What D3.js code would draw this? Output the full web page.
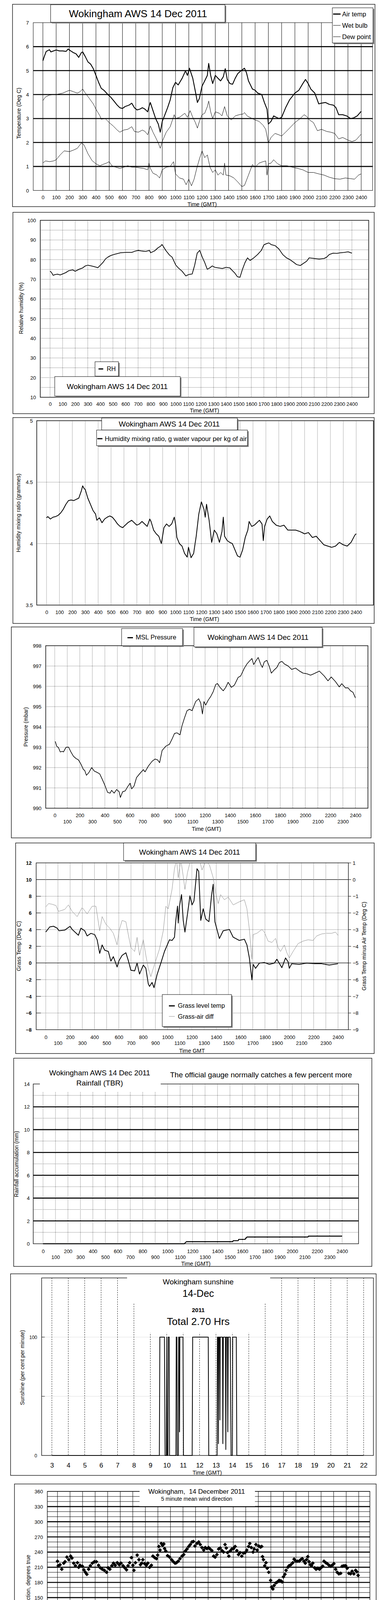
<!DOCTYPE html>
<html lang='en'>
<head>
<meta charset='UTF-8'>
<title>Wokingham AWS 14 Dec 2011</title>
<style>
  body { margin: 0; background: #fff; }
  text { font-family: "Liberation Sans", Arial, Helvetica, sans-serif; fill: #000; white-space: pre; }
</style>
</head>
<body>
<div id="chart"></div>
<script src='https://d3js.org/d3.v7.min.js'></script>
<script>
// ---- data (time in hundredths of an hour for the first six charts, hours for the rest) ----
const hundredTicks = [0,100,200,300,400,500,600,700,800,900,1000,1100,1200,1300,1400,1500,1600,1700,1800,1900,2000,2100,2200,2300,2400]
const hourTicks = [0,1,2,3,4,5,6,7,8,9,10,11,12,13,14,15,16,17,18,19,20,21,22,23,24]
const sunTicks = [3,4,5,6,7,8,9,10,11,12,13,14,15,16,17,18,19,20,21,22]

const airTemp = [[0,5.41],[10,5.58],[25,5.8],[50,5.87],[60,5.78],[80,5.82],[100,5.86],[125,5.82],[150,5.82],[175,5.8],[190,5.9],[210,5.82],[230,5.75],[250,5.7],[270,5.55],[290,5.75],[300,5.78],[320,5.58],[340,5.36],[360,5.27],[380,5.08],[400,4.8],[420,4.51],[440,4.26],[460,4.18],[490,4.0],[510,3.9],[540,3.7],[560,3.56],[580,3.45],[600,3.42],[620,3.5],[650,3.56],[670,3.64],[690,3.45],[710,3.36],[730,3.39],[750,3.45],[770,3.39],[790,3.28],[800,3.5],[810,3.67],[830,3.33],[850,3.0],[870,2.77],[885,2.43],[900,2.88],[920,3.16],[940,3.45],[960,3.78],[980,4.29],[1000,4.51],[1020,4.4],[1050,4.68],[1075,4.99],[1090,4.8],[1105,5.1],[1130,4.68],[1150,4.12],[1165,3.67],[1180,3.84],[1200,4.35],[1220,4.57],[1240,4.8],[1250,5.3],[1265,4.8],[1280,4.46],[1300,4.8],[1320,4.68],[1340,4.57],[1360,4.74],[1375,5.08],[1390,4.63],[1410,4.46],[1430,4.43],[1450,4.68],[1470,4.88],[1500,5.02],[1520,5.1],[1535,4.91],[1550,4.57],[1580,4.23],[1600,4.18],[1620,4.06],[1650,4.0],[1670,3.67],[1690,3.39],[1700,2.77],[1720,2.88],[1740,3.11],[1760,3.05],[1780,3.0],[1800,3.05],[1830,3.45],[1860,3.78],[1900,4.06],[1930,4.18],[1960,4.46],[1980,4.63],[2000,4.46],[2020,4.23],[2050,4.06],[2080,3.61],[2100,3.64],[2130,3.67],[2160,3.59],[2190,3.56],[2210,3.45],[2230,3.16],[2260,3.16],[2290,3.11],[2320,3.0],[2340,3.02],[2370,3.11],[2400,3.3]]
const wetBulb = [[0,3.75],[20,3.9],[50,3.98],[80,4.0],[100,4.0],[150,4.06],[200,4.18],[230,4.12],[260,4.06],[280,4.12],[300,4.23],[320,4.06],[350,3.84],[380,3.61],[400,3.39],[430,3.11],[440,2.97],[470,3.0],[500,2.83],[530,2.69],[560,2.52],[580,2.43],[610,2.52],[640,2.55],[670,2.66],[690,2.46],[720,2.43],[750,2.52],[770,2.46],[790,2.32],[810,2.69],[830,2.43],[850,2.21],[870,1.98],[885,1.76],[900,2.04],[930,2.43],[960,2.66],[990,3.16],[1000,3.0],[1030,3.05],[1070,3.22],[1090,3.05],[1110,3.33],[1130,3.05],[1150,2.83],[1165,2.6],[1180,2.88],[1200,3.16],[1220,3.22],[1240,3.5],[1250,3.73],[1265,3.28],[1280,3.0],[1300,3.28],[1330,3.22],[1350,3.11],[1370,3.5],[1390,3.11],[1420,2.94],[1450,3.11],[1480,3.16],[1510,3.19],[1520,3.25],[1540,3.11],[1570,3.02],[1600,2.94],[1630,2.88],[1660,2.72],[1680,2.55],[1700,1.98],[1720,2.21],[1750,2.38],[1780,2.32],[1800,2.27],[1830,2.43],[1860,2.6],[1900,2.83],[1940,3.0],[1970,3.16],[1990,3.08],[2010,2.94],[2040,2.83],[2070,2.49],[2100,2.55],[2140,2.46],[2170,2.43],[2200,2.38],[2230,2.15],[2260,2.21],[2300,2.1],[2330,2.04],[2360,2.1],[2400,2.35]]
const dewPoint = [[0,1.15],[20,1.23],[50,1.2],[80,1.23],[100,1.28],[130,1.48],[160,1.65],[200,1.62],[230,1.68],[260,1.76],[290,1.98],[310,1.9],[340,1.53],[370,1.25],[400,1.11],[430,1.03],[450,1.08],[480,1.14],[500,1.2],[520,1.03],[550,0.97],[580,0.92],[610,0.97],[640,1.03],[670,0.97],[700,0.97],[730,0.94],[760,0.92],[790,0.86],[800,1.14],[810,0.92],[830,0.72],[860,0.64],[880,0.52],[900,0.86],[930,0.97],[960,1.0],[985,1.2],[1000,0.69],[1030,0.52],[1060,0.47],[1080,0.24],[1100,0.47],[1120,0.19],[1140,0.47],[1160,0.92],[1180,1.31],[1200,1.65],[1220,1.37],[1240,1.48],[1260,0.97],[1280,0.75],[1300,0.86],[1320,0.64],[1340,0.75],[1360,0.64],[1370,1.14],[1380,0.64],[1410,0.61],[1440,0.52],[1470,0.35],[1500,0.16],[1520,0.21],[1550,0.64],[1580,1.08],[1600,0.97],[1630,1.14],[1660,1.2],[1680,1.23],[1690,0.64],[1700,1.11],[1720,1.14],[1740,1.28],[1770,1.11],[1800,1.03],[1840,1.03],[1880,0.97],[1920,0.92],[1960,0.86],[2000,0.75],[2040,0.75],[2080,0.69],[2120,0.64],[2160,0.55],[2200,0.49],[2240,0.47],[2280,0.52],[2320,0.49],[2350,0.47],[2380,0.64],[2400,0.69]]

const relHumidity = [[0,74.1],[10,73.6],[25,72.0],[40,72.4],[60,72.6],[80,72.2],[100,72.7],[125,73.4],[150,74.4],[180,74.8],[200,74.1],[230,75.1],[260,75.8],[280,76.8],[300,77.2],[330,76.8],[360,76.3],[380,75.9],[400,77.2],[420,78.5],[440,80.3],[460,81.3],[480,82.0],[500,82.5],[530,83.0],[560,83.5],[600,83.7],[650,83.7],[680,84.4],[700,84.7],[730,84.4],[760,84.2],[790,84.7],[800,83.5],[830,84.4],[860,86.1],[880,86.9],[890,87.7],[900,86.8],[920,84.7],[950,82.3],[970,81.3],[1000,77.2],[1020,75.8],[1050,74.1],[1080,71.7],[1100,72.4],[1130,72.7],[1150,77.2],[1170,83.3],[1190,84.7],[1210,81.3],[1230,78.5],[1250,75.1],[1270,75.8],[1290,76.8],[1310,76.1],[1340,75.8],[1370,75.5],[1400,76.1],[1430,75.8],[1450,74.4],[1470,73.1],[1490,71.3],[1510,71.0],[1530,75.1],[1550,78.5],[1570,80.9],[1590,79.6],[1620,80.9],[1650,82.6],[1680,84.7],[1700,87.5],[1720,88.1],[1740,88.5],[1760,87.6],[1790,87.1],[1820,85.4],[1850,82.6],[1880,80.9],[1910,79.9],[1940,78.5],[1960,77.5],[1990,77.0],[2010,77.9],[2040,79.2],[2060,80.9],[2100,80.6],[2140,80.3],[2180,80.6],[2200,81.3],[2220,82.6],[2250,83.3],[2280,83.2],[2310,83.5],[2340,83.7],[2370,84.0],[2400,83.3]]

const mixingRatio = [[0,4.21],[10,4.22],[30,4.2],[50,4.215],[70,4.22],[90,4.23],[110,4.25],[130,4.28],[150,4.32],[170,4.35],[190,4.355],[210,4.35],[230,4.36],[250,4.37],[270,4.43],[280,4.47],[290,4.45],[300,4.44],[320,4.37],[340,4.32],[360,4.27],[380,4.24],[390,4.19],[410,4.21],[430,4.17],[450,4.2],[470,4.215],[490,4.225],[510,4.215],[530,4.19],[550,4.16],[570,4.14],[590,4.13],[610,4.15],[630,4.17],[660,4.19],[680,4.17],[700,4.15],[720,4.16],[740,4.18],[760,4.16],[780,4.14],[800,4.2],[810,4.18],[830,4.11],[850,4.08],[870,4.06],[890,4.0],[910,4.13],[930,4.16],[950,4.14],[970,4.16],[990,4.215],[1000,4.16],[1010,4.05],[1030,4.0],[1050,3.98],[1070,3.92],[1090,3.89],[1100,3.97],[1120,3.885],[1140,3.92],[1160,4.06],[1180,4.24],[1200,4.34],[1220,4.28],[1230,4.215],[1240,4.32],[1260,4.19],[1280,4.01],[1300,4.11],[1320,4.08],[1340,4.01],[1360,4.1],[1370,4.215],[1380,4.06],[1400,4.025],[1420,4.01],[1440,4.0],[1460,3.95],[1480,3.9],[1500,3.89],[1520,3.95],[1540,4.05],[1560,4.11],[1570,4.18],[1590,4.14],[1610,4.15],[1630,4.17],[1650,4.19],[1670,4.16],[1680,4.025],[1690,4.14],[1710,4.2],[1730,4.225],[1750,4.18],[1780,4.15],[1810,4.14],[1840,4.15],[1870,4.11],[1900,4.11],[1930,4.11],[1960,4.1],[2000,4.08],[2030,4.09],[2060,4.05],[2090,4.06],[2120,4.025],[2150,3.99],[2180,3.98],[2210,3.97],[2240,3.98],[2270,4.01],[2300,3.99],[2330,3.98],[2360,4.01],[2390,4.07],[2400,4.08]]

const mslPressure = [[4,993.29],[16,993.05],[30,992.98],[44,992.77],[60,992.8],[70,992.77],[90,993.0],[110,993.01],[129,992.77],[149,992.56],[169,992.45],[189,992.38],[209,992.17],[229,991.9],[239,991.86],[253,991.62],[273,991.76],[295,992.0],[315,991.83],[339,991.76],[359,991.69],[378,991.44],[398,991.16],[422,990.78],[442,990.74],[454,990.88],[474,990.74],[494,990.92],[514,990.81],[524,990.53],[542,990.81],[562,990.85],[582,991.06],[602,991.23],[614,990.95],[633,991.09],[653,991.51],[677,991.69],[707,991.9],[721,991.79],[747,992.07],[777,992.31],[801,992.42],[821,992.38],[837,992.24],[857,992.84],[886,993.05],[916,993.15],[936,993.4],[956,993.68],[976,993.71],[1000,993.61],[1016,994.06],[1036,994.45],[1056,994.8],[1076,994.87],[1096,994.8],[1125,995.25],[1149,995.39],[1165,995.18],[1179,994.64],[1191,995.25],[1205,995.08],[1225,995.32],[1245,995.5],[1265,995.74],[1285,996.09],[1299,996.14],[1319,995.95],[1345,995.78],[1365,995.95],[1384,996.2],[1410,995.95],[1434,996.06],[1464,996.44],[1484,996.51],[1514,996.9],[1534,997.1],[1554,997.24],[1574,997.37],[1588,997.07],[1604,997.24],[1624,997.42],[1643,997.1],[1657,996.93],[1673,997.21],[1693,997.28],[1713,996.97],[1729,996.65],[1749,996.79],[1773,996.93],[1793,997.17],[1813,997.23],[1833,997.1],[1863,997.0],[1892,996.83],[1922,996.9],[1952,996.76],[1982,996.65],[2012,996.62],[2042,996.55],[2072,996.63],[2112,996.75],[2151,996.51],[2181,996.27],[2207,996.46],[2241,996.23],[2271,995.97],[2291,996.13],[2321,995.92],[2341,995.93],[2361,995.78],[2380,995.71],[2400,995.43]]

const grassTemp = [[0,3.71],[33,4.33],[64,4.4],[94,4.17],[109,3.86],[156,3.94],[200,4.4],[217,4.02],[268,3.32],[289,4.17],[320,3.86],[340,3.24],[371,3.55],[402,3.4],[422,2.78],[443,1.15],[463,2.16],[484,1.53],[514,1.38],[535,0.22],[555,0.76],[586,-0.48],[602,0.29],[627,0.91],[658,1.22],[678,0.29],[699,-0.87],[730,-0.95],[750,-0.02],[770,-1.33],[801,-0.25],[822,-0.64],[842,-2.5],[852,-2.81],[873,-2.34],[889,-2.96],[914,-1.41],[945,-0.02],[975,1.38],[1016,2.78],[1037,2.7],[1057,3.09],[1068,5.1],[1082,6.81],[1088,4.79],[1098,6.81],[1115,8.2],[1129,5.1],[1143,3.71],[1164,5.88],[1184,8.05],[1201,6.96],[1217,7.43],[1242,11.3],[1256,10.99],[1273,5.1],[1293,6.5],[1314,5.26],[1340,4.95],[1361,8.05],[1375,9.44],[1389,4.95],[1426,2.93],[1457,3.86],[1508,4.02],[1539,3.09],[1590,2.7],[1631,2.85],[1652,2.16],[1672,0.6],[1693,-2.03],[1703,-0.17],[1723,-0.64],[1754,-0.02],[1795,0.06],[1836,-0.17],[1877,-0.02],[1898,0.45],[1939,-0.56],[1969,0.6],[1990,0.14],[2000,-0.64],[2020,-0.09],[2082,-0.17],[2143,-0.02],[2205,-0.09],[2266,-0.09],[2328,-0.25],[2400,-0.09]]
const grassAirDiff = [[0,-1.64],[23,-1.44],[53,-1.48],[84,-1.56],[105,-1.91],[156,-1.79],[186,-1.52],[217,-1.91],[258,-2.22],[299,-1.67],[340,-2.06],[381,-1.6],[412,-1.6],[443,-3.07],[463,-2.22],[494,-2.68],[525,-2.91],[555,-3.22],[586,-3.92],[602,-3.07],[627,-2.45],[658,-2.53],[678,-3.3],[699,-4.08],[730,-4.31],[750,-3.46],[770,-4.54],[801,-3.61],[822,-4.54],[842,-5.32],[863,-5.82],[883,-5.32],[904,-4.85],[934,-4.16],[965,-3.07],[986,-1.6],[1006,-1.75],[1037,-0.59],[1057,0.65],[1074,1.2],[1088,0.11],[1109,1.2],[1129,0.19],[1143,-0.59],[1164,0.42],[1190,1.2],[1221,1.3],[1262,1.2],[1283,0.57],[1314,1.1],[1344,0.88],[1375,0.11],[1396,-0.82],[1416,-1.44],[1436,-0.9],[1467,-1.21],[1498,-1.05],[1539,-1.52],[1590,-1.33],[1631,-1.21],[1652,-1.75],[1672,-2.99],[1693,-4.78],[1703,-3.3],[1734,-3.22],[1775,-2.99],[1795,-3.15],[1826,-3.69],[1857,-3.77],[1887,-3.53],[1908,-4.08],[1928,-4.31],[1959,-3.92],[1980,-4.39],[2000,-4.7],[2031,-4.31],[2072,-3.84],[2113,-3.69],[2154,-3.61],[2195,-3.65],[2225,-3.38],[2266,-3.26],[2307,-3.22],[2348,-3.22],[2379,-3.15],[2400,-3.34]]

const rainAccum = [[0,0],[1134,0],[1150,0.18],[1522,0.18],[1526,0.27],[1566,0.27],[1570,0.38],[1622,0.38],[1626,0.5],[1632,0.5],[1636,0.59],[2126,0.59],[2130,0.67],[2400,0.67]]

const sunshine = [[3,0],[9.55,0],[9.58,100],[9.86,100],[9.9,0],[9.98,0],[10.0,100],[10.02,0],[10.07,0],[10.09,100],[10.15,100],[10.17,0],[10.56,0],[10.58,100],[10.62,100],[10.64,0],[10.71,0],[10.73,100],[10.76,100],[10.78,20],[10.8,100],[10.99,100],[11.02,0],[11.55,0],[11.58,100],[12.53,100],[12.56,0],[13.07,0],[13.09,100],[13.13,100],[13.15,10],[13.17,100],[13.22,100],[13.24,30],[13.26,100],[13.4,100],[13.42,10],[13.45,100],[13.58,100],[13.6,5],[13.63,100],[13.7,100],[13.72,20],[13.75,100],[13.87,100],[13.92,0],[14.0,0],[14.02,100],[14.24,100],[14.27,0],[22,0]]

const windDirection = [[0,222],[0.06,213],[0.2,215],[0.34,206],[0.5,218],[0.6,221],[0.75,230],[0.9,225],[1.05,232],[1.15,228],[1.29,218],[1.43,213],[1.59,219],[1.69,210],[1.79,214],[1.98,212],[2.1,205],[2.22,200],[2.34,196],[2.48,206],[2.62,213],[2.78,218],[2.94,221],[3.1,221],[3.27,214],[3.41,209],[3.57,206],[3.73,204],[3.91,200],[4.03,209],[4.17,206],[4.33,213],[4.46,218],[4.6,214],[4.76,219],[4.92,215],[5.06,218],[5.22,213],[5.36,209],[5.5,205],[5.62,213],[5.75,219],[5.89,229],[6.01,214],[6.09,204],[6.21,219],[6.35,234],[6.49,225],[6.61,215],[6.71,218],[6.8,225],[6.94,217],[7.08,214],[7.2,218],[7.34,210],[7.48,214],[7.6,232],[7.74,229],[7.88,227],[7.98,234],[8.08,251],[8.17,244],[8.27,257],[8.37,253],[8.47,256],[8.53,247],[8.63,242],[8.77,233],[8.93,230],[9.09,225],[9.23,221],[9.37,218],[9.48,219],[9.62,222],[9.76,227],[9.92,232],[10.06,235],[10.18,242],[10.32,246],[10.46,251],[10.58,255],[10.71,260],[10.83,261],[10.95,252],[11.11,257],[11.25,260],[11.37,255],[11.51,249],[11.65,244],[11.77,249],[11.9,247],[12.04,249],[12.16,246],[12.3,243],[12.44,232],[12.56,230],[12.7,235],[12.84,246],[12.96,248],[13.1,243],[13.23,240],[13.35,255],[13.45,248],[13.55,239],[13.65,232],[13.75,242],[13.89,246],[14.03,247],[14.15,251],[14.29,243],[14.42,235],[14.54,239],[14.68,232],[14.82,238],[14.94,239],[15.08,244],[15.22,251],[15.32,257],[15.44,249],[15.58,240],[15.67,246],[15.81,255],[15.91,244],[16.03,252],[16.17,250],[16.27,251],[16.33,231],[16.41,225],[16.51,213],[16.61,219],[16.71,208],[16.83,200],[16.98,184],[17.06,171],[17.16,167],[17.26,174],[17.4,179],[17.52,181],[17.66,184],[17.8,183],[17.9,181],[18.0,191],[18.12,196],[18.21,204],[18.35,210],[18.45,213],[18.59,215],[18.75,219],[18.85,226],[18.99,222],[19.11,222],[19.25,222],[19.38,225],[19.5,227],[19.64,222],[19.74,218],[19.84,225],[19.94,231],[20.04,221],[20.14,215],[20.24,213],[20.34,218],[20.48,209],[20.6,206],[20.73,208],[20.87,206],[20.99,209],[21.13,212],[21.23,222],[21.37,219],[21.49,217],[21.63,214],[21.77,212],[21.88,214],[22.02,217],[22.16,206],[22.28,200],[22.42,197],[22.56,198],[22.68,212],[22.82,213],[22.96,213],[23.08,208],[23.21,198],[23.35,197],[23.47,202],[23.61,197],[23.75,204],[23.85,201],[23.95,194]]

const windMean = [[0,7.6],[0.14,8.4],[0.25,9.5],[0.39,10.1],[0.48,10.4],[0.62,9.8],[0.73,7.8],[0.87,8.7],[1.02,7.5],[1.16,7.2],[1.29,5.2],[1.45,5.7],[1.6,6.9],[1.78,5.7],[1.93,6.0],[2.12,5.7],[2.28,5.5],[2.47,6.0],[2.64,6.3],[2.8,7.2],[2.95,6.9],[3.15,8.4],[3.32,7.5],[3.51,6.9],[3.67,7.2],[3.86,7.4],[4.05,7.5],[4.25,7.8],[4.44,7.2],[4.63,7.5],[4.83,8.9],[5.02,7.8],[5.25,6.0],[5.44,6.6],[5.64,6.9],[5.83,5.7],[6.02,5.5],[6.22,5.2],[6.37,4.3],[6.56,5.2],[6.76,4.6],[6.95,3.9],[7.14,4.3],[7.34,4.0],[7.53,4.6],[7.72,4.3],[7.92,5.5],[8.11,4.6],[8.3,3.4],[8.53,3.7],[8.78,4.3],[8.98,5.5],[9.17,6.9],[9.36,7.2],[9.61,8.4],[9.81,6.6],[10.0,7.5],[10.23,7.8],[10.52,8.9],[10.71,11.3],[10.91,12.4],[11.04,10.4],[11.2,12.1],[11.39,11.0],[11.58,12.4],[11.78,8.7],[11.97,8.9],[12.12,7.2],[12.32,10.1],[12.51,9.8],[12.7,10.4],[12.9,9.8],[13.09,10.7],[13.28,8.7],[13.47,8.4],[13.67,7.2],[13.9,7.2],[14.13,8.7],[14.32,7.5],[14.52,6.6],[14.71,9.2],[14.9,10.7],[15.15,10.1],[15.35,12.1],[15.6,7.8],[15.83,9.8],[16.02,9.8],[16.22,7.5],[16.41,5.2],[16.6,3.7],[16.83,2.6],[17.03,3.4],[17.22,5.5],[17.37,6.6],[17.57,5.2],[17.76,5.7],[17.95,6.3],[18.15,4.3],[18.34,5.2],[18.53,5.7],[18.73,6.3],[18.96,6.3],[19.19,5.7],[19.38,7.2],[19.59,6.0],[19.79,6.6],[20.04,5.5],[20.27,5.7],[20.46,4.0],[20.62,5.2],[20.81,6.0],[21.0,7.2],[21.24,8.1],[21.43,6.6],[21.66,7.2],[21.85,6.9],[22.05,6.0],[22.24,6.9],[22.43,7.2],[22.63,6.6],[22.82,7.2],[23.05,6.0],[23.26,6.9],[23.46,6.0],[23.65,7.2],[23.84,5.7],[24.0,7.0]]
const windGust = [[0,16.5],[0.1,12],[0.2,14],[0.3,13],[0.4,17],[0.45,19.3],[0.5,13],[0.6,16],[0.7,11],[0.8,15],[0.9,10],[1.0,12],[1.1,9],[1.2,13],[1.3,7],[1.4,9],[1.5,6],[1.6,12],[1.7,8],[1.8,10],[1.9,7],[2.0,9],[2.1,6.5],[2.2,11],[2.3,8],[2.4,10],[2.5,7.5],[2.6,12],[2.7,9],[2.8,14.5],[2.9,10],[3.0,13],[3.1,9],[3.2,12],[3.3,10],[3.4,14.5],[3.5,9],[3.6,13],[3.7,10],[3.8,12],[3.9,9],[4.0,15],[4.1,10],[4.2,13],[4.3,9],[4.4,14],[4.5,10],[4.6,15],[4.7,9],[4.8,13],[4.9,9],[5.0,12],[5.1,8],[5.2,11],[5.3,7],[5.4,9],[5.5,10],[5.6,7],[5.7,9],[5.8,6.5],[5.9,8],[6.0,9],[6.1,6],[6.2,8],[6.3,5.5],[6.4,7],[6.5,8.5],[6.6,6],[6.7,7],[6.8,7.5],[6.9,6],[7.0,5.5],[7.1,7],[7.2,5],[7.3,6.5],[7.4,8],[7.5,6],[7.6,10.5],[7.7,7],[7.8,9],[7.9,5.5],[8.0,7.5],[8.1,5],[8.2,6],[8.3,7],[8.4,4.5],[8.5,6],[8.6,7],[8.7,5.5],[8.8,5],[8.9,7],[9.0,8],[9.1,9],[9.2,12],[9.3,8],[9.4,11],[9.5,9],[9.6,13],[9.7,10],[9.8,12],[9.9,9],[10.0,14],[10.1,11],[10.2,13],[10.3,10],[10.4,15],[10.5,12],[10.6,17],[10.7,13],[10.8,22.5],[10.9,14],[11.0,18],[11.1,12],[11.2,20],[11.3,14],[11.4,23.3],[11.5,13],[11.6,17],[11.7,12],[11.8,15],[11.9,11],[12.0,14],[12.1,10],[12.2,16],[12.3,11],[12.4,15],[12.5,12],[12.6,17],[12.7,11],[12.8,15],[12.9,12],[13.0,17.5],[13.1,12],[13.2,14],[13.3,10],[13.4,13],[13.5,10],[13.6,9],[13.7,11],[13.8,12],[13.9,9],[14.0,13],[14.1,10],[14.2,12],[14.3,14],[14.4,9],[14.5,11],[14.6,12],[14.7,16],[14.8,11],[14.9,14],[15.0,17],[15.1,12],[15.2,16],[15.3,21.8],[15.4,18],[15.5,11],[15.6,16],[15.7,12],[15.8,17],[15.9,12],[16.0,15],[16.1,11],[16.2,12],[16.3,8],[16.4,9],[16.5,6],[16.6,7],[16.7,4],[16.8,6],[16.9,5],[17.0,7],[17.1,6],[17.2,8],[17.3,6],[17.4,10],[17.5,7],[17.6,9],[17.7,6],[17.8,8],[17.9,6],[18.0,12],[18.1,7],[18.2,10],[18.3,6],[18.4,9],[18.5,7],[18.6,11],[18.7,8],[18.8,13],[18.9,8],[19.0,12],[19.1,8],[19.2,13],[19.3,9],[19.4,12],[19.5,7],[19.6,10],[19.7,7],[19.8,11],[19.9,7],[20.0,9],[20.1,6],[20.2,9],[20.3,6],[20.4,7],[20.5,5],[20.6,8],[20.7,6],[20.8,9],[20.9,8],[21.0,11],[21.1,9],[21.2,13],[21.3,10],[21.4,12],[21.5,10],[21.6,15],[21.7,10],[21.8,13],[21.9,9],[22.0,12],[22.1,9],[22.2,13],[22.3,9],[22.4,11],[22.5,8],[22.6,12],[22.7,9],[22.8,11],[22.9,8],[23.0,10],[23.1,8],[23.2,11],[23.3,7],[23.4,10],[23.5,8],[23.6,11],[23.7,8],[23.8,12],[23.9,9],[24.0,10]]
const windLowX10 = [[6.91,38.4],[6.95,38.8],[6.99,39.2],[7.01,39.7],[7.05,40.0],[8.32,39.1],[8.34,36.8],[8.38,36.2],[8.42,34.2],[8.44,33.3],[8.46,35.4],[8.49,35.7],[8.53,37.4],[8.59,38.3],[8.63,38.9],[8.69,39.4],[16.70,37.0],[16.74,35.1],[16.76,34.2],[16.80,31.4],[16.78,30.1],[16.81,28.7],[16.83,27.2],[16.85,25.6],[16.87,24.6],[16.89,24.3],[16.95,26.9],[16.99,28.7],[17.01,30.4],[17.03,31.9],[17.07,33.0],[17.08,34.5],[17.10,35.7],[17.12,38.3],[17.14,38.6],[20.56,39.6]]

const TITLE = 'Wokingham AWS 14 Dec 2011'

// ---- helpers ----
const svg = d3.select('#chart').append('svg')
  .attr('width', 1000).attr('height', 5000).style('display', 'block')
svg.append('rect').attr('width', 1000).attr('height', 5000).attr('fill', '#fff')

const DOT = '1,2'

function rect(x, y, w, h, fill, stroke, sw) {
  return svg.append('rect').attr('x', x).attr('y', y).attr('width', w).attr('height', h)
    .attr('fill', fill).attr('stroke', stroke || 'none').attr('stroke-width', sw || 1)
}
function frame(x, y, w, h) { rect(x, y, w, h, 'none', '#000', 1.3) }
function box(x, y, w, h) {
  rect(x + 3, y + 3, w, h, '#808080')
  rect(x, y, w, h, '#fff', '#000', 1)
}
function seg(x1, y1, x2, y2, w, color) {
  return svg.append('line').attr('x1', x1).attr('y1', y1).attr('x2', x2).attr('y2', y2)
    .attr('stroke', color || '#000').attr('stroke-width', w || 1)
}
function hGrid(y, vals, x0, x1, w, dash, color) {
  svg.append('g').selectAll('line').data(vals).join('line')
    .attr('x1', x0).attr('x2', x1).attr('y1', d => y(d)).attr('y2', d => y(d))
    .attr('stroke', color || '#000').attr('stroke-width', w).attr('stroke-dasharray', dash || null)
}
function vGrid(x, vals, y0, y1, w, dash, color) {
  svg.append('g').selectAll('line').data(vals).join('line')
    .attr('y1', y0).attr('y2', y1).attr('x1', d => x(d)).attr('x2', d => x(d))
    .attr('stroke', color || '#000').attr('stroke-width', w).attr('stroke-dasharray', dash || null)
}
function label(str, x, y, size, anchor, weight) {
  return svg.append('text').attr('x', x).attr('y', y).attr('dy', '0.35em')
    .attr('font-size', size).attr('text-anchor', anchor || 'middle')
    .attr('font-weight', weight || 'normal').text(str)
}
function vlabel(str, x, y, size) {
  return label(str, x, y, size).attr('transform', `rotate(-90,${x},${y})`)
}
function xAxis(x, y, vals, fmt, size) {
  const g = svg.append('g').attr('transform', `translate(0,${y})`)
    .call(d3.axisBottom(x).tickValues(vals).tickSize(0).tickPadding(0).tickFormat(fmt))
  g.select('.domain').remove()
  g.attr('font-size', size || 13)
  g.selectAll('text').attr('y', 0).attr('dy', '0.35em')
}
function yAxis(y, x, vals, fmt, size, weight, right) {
  const ax = right ? d3.axisRight(y) : d3.axisLeft(y)
  const g = svg.append('g').attr('transform', `translate(${x},0)`)
    .call(ax.tickValues(vals).tickSize(0).tickPadding(0).tickFormat(fmt))
  g.select('.domain').remove()
  g.attr('font-size', size || 13)
  g.selectAll('text').attr('x', 0).attr('dy', '0.35em').attr('font-weight', weight || null)
}
function series(data, x, y, w, color, clip) {
  const p = svg.append('path').datum(data)
    .attr('d', d3.line().x(d => x(d[0])).y(d => y(d[1])))
    .attr('fill', 'none').attr('stroke', color || '#000').attr('stroke-width', w)
    .attr('stroke-linejoin', 'round')
  if (clip) p.attr('clip-path', `url(#${clip})`)
}
const diamond = {
  draw(ctx, size) {
    const r = Math.sqrt(size / 2)
    ctx.moveTo(0, -r); ctx.lineTo(r, 0); ctx.lineTo(0, r); ctx.lineTo(-r, 0); ctx.closePath()
  }
}
const fmtInt = d3.format('d')
const evens = hundredTicks.filter((d, i) => i % 2 === 0)
const odds = hundredTicks.filter((d, i) => i % 2 === 1)

// ---- 1. temperatures ----
{
  const L = 85, R = 953, T = 58, B = 487.5
  const x = d3.scaleLinear().domain([0, 2400]).range([109.7, 923.8])
  const y = d3.scaleLinear().domain([0, 7]).range([B, T])
  frame(32, 11, 927, 518)
  vGrid(x, hundredTicks, T, B, 1)
  hGrid(y, [1, 2, 3, 4, 5, 6], L, R, 2.6)
  rect(L, T, R - L, B - T, 'none', '#000', 1)
  series(dewPoint, x, y, 1)
  series(wetBulb, x, y, 1)
  series(airTemp, x, y, 2.2)
  xAxis(x, 505, hundredTicks, fmtInt)
  yAxis(y, 74, [0, 1, 2, 3, 4, 5, 6, 7], fmtInt)
  label('Time (GMT)', 517, 523, 14)
  vlabel('Temperature (Deg C)', 48, 290, 14)
  box(129.5, 12, 446, 45)
  label(TITLE, 353, 34.5, 26)
  box(850, 20, 104, 90)
  seg(852, 36, 871, 36, 3); label('Air temp', 875, 36, 16.5, 'start')
  seg(852, 65, 871, 65, 1); label('Wet bulb', 875, 65, 16.5, 'start')
  seg(852, 94, 871, 94, 1); label('Dew point', 875, 94, 16.5, 'start')
}

// ---- 2. relative humidity ----
{
  const L = 103, R = 943, T = 564, B = 1017
  const x = d3.scaleLinear().domain([0, 2400]).range([128, 900])
  const y = d3.scaleLinear().domain([10, 100]).range([B, T])
  frame(33, 543.5, 924, 515.5)
  vGrid(x, hundredTicks, T, B, 1, DOT)
  hGrid(y, [15, 20, 25, 30, 35, 40, 45, 50, 55, 60, 65, 70, 75, 80, 85, 90, 95], L, R, 1, DOT)
  rect(L, T, R - L, B - T, 'none', '#000', 1.5)
  series(relHumidity, x, y, 1.8)
  xAxis(x, 1034, hundredTicks, fmtInt)
  yAxis(y, 92, [10, 20, 30, 40, 50, 60, 70, 80, 90, 100], fmtInt)
  label('Time (GMT)', 523, 1051, 14)
  vlabel('Relative humidity (%)', 54, 789, 14)
  box(243, 926, 60, 37)
  seg(252, 944.5, 264, 944.5, 3); label('RH', 273, 944.5, 16, 'start')
  box(140, 964, 321, 50)
  label(TITLE, 300, 989, 19)
}

// ---- 3. humidity mixing ratio ----
{
  const L = 94, R = 955, T = 1077, B = 1549
  const x = d3.scaleLinear().domain([0, 2400]).range([119, 911])
  const y = d3.scaleLinear().domain([3.5, 5]).range([B, T])
  frame(33, 1069, 924, 527)
  vGrid(x, hundredTicks, T, B, 1, DOT)
  hGrid(y, [4, 4.5], L, R, 1, DOT)
  rect(L, T, R - L, B - T, 'none', '#000', 1.5)
  series(mixingRatio, x, y, 2)
  xAxis(x, 1567, hundredTicks, fmtInt)
  yAxis(y, 84, [3.5, 4, 4.5, 5], d => String(d))
  label('Time (GMT)', 523, 1585, 14)
  vlabel('Humidity mixing ratio (grammes)', 47, 1313, 14)
  box(260, 1070, 347, 31)
  label(TITLE, 433, 1085.5, 19)
  box(247, 1101, 386, 40)
  seg(249, 1123, 262, 1123, 3)
  label('Humidity mixing ratio, g water vapour per kg of air', 268, 1123, 16.5, 'start')
}

// ---- 4. pressure ----
{
  const L = 117, R = 941, T = 1653, B = 2069
  const x = d3.scaleLinear().domain([0, 2400]).range([140, 909])
  const y = d3.scaleLinear().domain([990, 998]).range([B, T])
  frame(29, 1605, 920, 540)
  vGrid(x, hundredTicks, T, B, 1, DOT)
  hGrid(y, [991, 992, 993, 994, 995, 996, 997], L, R, 1, DOT)
  rect(L, T, R - L, B - T, 'none', '#000', 1.5)
  series(mslPressure, x, y, 1.6)
  xAxis(x, 2087, evens, fmtInt)
  xAxis(x, 2103.5, odds, fmtInt)
  yAxis(y, 106, [990, 991, 992, 993, 994, 995, 996, 997, 998], fmtInt)
  label('Time (GMT)', 528, 2122, 14)
  vlabel('Pressure (mbar)', 66, 1861, 14)
  box(311, 1609, 156, 44)
  seg(326, 1632.5, 340, 1632.5, 3); label('MSL Pressure', 347, 1631, 16.5, 'start')
  box(496, 1606, 328, 50)
  label(TITLE, 660, 1631, 19)
}

// ---- 5. grass temperature ----
{
  const L = 92.5, R = 891, T = 2209, B = 2636
  const x = d3.scaleLinear().domain([0, 2400]).range([117, 864.5])
  const y = d3.scaleLinear().domain([-8, 12]).range([B, T])
  const y2 = d3.scaleLinear().domain([-9, 1]).range([B, T])
  frame(40, 2158, 917, 539)
  svg.append('clipPath').attr('id', 'grassClip').append('rect')
    .attr('x', L).attr('y', T).attr('width', R - L).attr('height', B - T)
  vGrid(x, hundredTicks, T, B, 1, DOT)
  hGrid(y, [-6, -4, -2, 2, 4, 6, 8], L, R, 1, DOT)
  hGrid(y, [0, 10], L, R, 1.3)
  svg.append('g').selectAll('line').data([-6, -4, -2, 2, 4, 6, 8]).join('line')
    .attr('x1', L).attr('x2', L + 12).attr('y1', d => y(d)).attr('y2', d => y(d))
    .attr('stroke', '#000')
  svg.append('g').selectAll('line').data([-9, -8, -7, -6, -5, -4, -3, -2, -1, 0, 1]).join('line')
    .attr('x1', R).attr('x2', R + 7).attr('y1', d => y2(d)).attr('y2', d => y2(d))
    .attr('stroke', '#000')
  rect(L, T, R - L, B - T, 'none', '#000', 1.3)
  series(grassAirDiff, x, y2, 1, '#8c8c8c', 'grassClip')
  series(grassTemp, x, y, 2, '#000', 'grassClip')
  xAxis(x, 2655, evens, fmtInt)
  xAxis(x, 2670, odds, fmtInt)
  yAxis(y, 81, [-8, -6, -4, -2, 0, 2, 4, 6, 8, 10, 12], fmtInt, 13, 'bold')
  yAxis(y2, 902, [-9, -8, -7, -6, -5, -4, -3, -2, -1, 0, 1], fmtInt, 13, null, true)
  label('Time GMT', 491, 2690, 14)
  vlabel('Grass Temp (Deg C)', 48, 2422, 14)
  vlabel('Grass Temp minus Air Temp (Deg C)', 931, 2422, 14)
  box(316, 2158, 338, 45)
  label(TITLE, 485, 2181, 19)
  box(415, 2546, 177, 82)
  seg(432, 2575, 447, 2575, 3); label('Grass level temp', 455, 2574, 16, 'start')
  seg(432, 2602, 447, 2602, 1, '#8c8c8c'); label('Grass-air diff', 455, 2602, 16, 'start')
}

// ---- 6. rainfall ----
{
  const L = 85, R = 917, T = 2775, B = 3184
  const x = d3.scaleLinear().domain([0, 2400]).range([110, 875])
  const y = d3.scaleLinear().domain([0, 14]).range([B, T])
  frame(35, 2709, 916, 533)
  vGrid(x, hundredTicks, T, B, 1, DOT)
  hGrid(y, [1, 3, 5, 7, 9, 11, 13], L, R, 1, DOT)
  hGrid(y, [2, 4, 6, 8, 10, 12], L, R, 2.6)
  rect(L, T, R - L, B - T, 'none', '#000', 1.3)
  rect(102, 2728, 309, 66, '#fff')
  series(rainAccum, x, y, 2.4)
  xAxis(x, 3203, evens, fmtInt)
  xAxis(x, 3218, odds, fmtInt)
  yAxis(y, 76, [0, 2, 4, 6, 8, 10, 12, 14], fmtInt)
  label('Time (GMT)', 501, 3235, 14)
  vlabel('Rainfall accumulation (mm)', 42, 2980, 14)
  label(TITLE, 255, 2746, 19)
  label('Rainfall (TBR)', 255, 2772, 19)
  label('The official gauge normally catches a few percent more', 435, 2751, 19, 'start')
}

// ---- 7. sunshine ----
{
  const L = 106.5, R = 955, T = 3271.5, B = 3726
  const x = d3.scaleLinear().domain([3, 22]).range([132.7, 930])
  const y = d3.scaleLinear().domain([0, 150]).range([B, T])
  frame(27, 3261, 935, 516)
  vGrid(x, sunTicks, T, B, 1, '3,3')
  hGrid(y, [50, 100], L, R, 1, DOT, '#999')
  svg.append('g').selectAll('line').data([50, 100]).join('line')
    .attr('x1', L).attr('x2', L + 8).attr('y1', d => y(d)).attr('y2', d => y(d)).attr('stroke', '#000')
  rect(L, T, R - L, B - T, 'none', '#000', 1.3)
  rect(325, 3265, 366, 70, '#fff')
  rect(344, 3335, 326, 77, '#fff')
  series(sunshine, x, y, 2)
  xAxis(x, 3751, sunTicks, fmtInt, 17)
  yAxis(y, 95, [0, 100], fmtInt, 12)
  label('Time (GMT)', 530, 3770, 14)
  vlabel('Sunshine (per cent per minute)', 57, 3501, 14)
  label('Wokingham sunshine', 507, 3281, 19)
  label('14-Dec', 507, 3311, 25)
  label('2011', 507, 3354, 15, 'middle', 'bold')
  label('Total 2.70 Hrs', 507, 3383, 26)
}

// ---- 8. wind direction ----
{
  const L = 121, R = 946, T = 3818, B = 4284
  const x = d3.scaleLinear().domain([0, 24]).range([147, 917.5])
  const y = d3.scaleLinear().domain([0, 360]).range([B, T])
  const tens = d3.range(0, 361, 10).filter(d => d % 30 !== 0 || d === 0 || d === 360)
  frame(37, 3799, 925, 532.5)
  hGrid(y, tens, L, R, 1)
  vGrid(x, hourTicks, T, B, 1)
  hGrid(y, [30, 60, 90, 120, 150, 180, 210, 240, 270, 300, 330], L, R, 2.6)
  rect(L, T, R - L, B - T, 'none', '#000', 1.3)
  rect(357, 3806, 295, 50, '#fff')
  svg.append('g').selectAll('path').data(windDirection).join('path')
    .attr('transform', d => `translate(${x(d[0])},${y(d[1])})`)
    .attr('d', d3.symbol(diamond, 50)).attr('fill', '#000')
  xAxis(x, 4301, hourTicks, fmtInt)
  yAxis(y, 110, [0, 30, 60, 90, 120, 150, 180, 210, 240, 270, 300, 330, 360], fmtInt)
  label('Time (GMT)', 533, 4319, 14)
  vlabel('Direction, degrees true', 72, 4051, 14)
  label('Wokingham,  14 December 2011', 503, 3818, 17)
  label('5 minute mean wind direction', 503, 3837, 14)
}

// ---- 9. wind speed ----
{
  const L = 96, R = 947, T = 4385, B = 4781
  const x = d3.scaleLinear().domain([0, 24]).range([121, 915])
  const y = d3.scaleLinear().domain([0, 50]).range([B, T])
  frame(38, 4341, 927, 515)
  vGrid(x, hourTicks, T, B, 1, DOT)
  hGrid(y, [5, 10, 15, 20, 25, 30, 35, 40, 45], L, R, 1, DOT)
  rect(L, T, R - L, B - T, 'none', '#000', 1.3)
  rect(102, 4380, 340, 8, '#fff')
  series(windGust, x, y, 1, '#505050')
  series(windMean, x, y, 2)
  svg.append('g').selectAll('path').data(windLowX10).join('path')
    .attr('transform', d => `translate(${x(d[0])},${y(d[1])})`)
    .attr('d', d3.symbol(diamond, 40)).attr('fill', '#c8c8c8').attr('stroke', '#333').attr('stroke-width', 0.8)
  const hh = d => d3.format('02d')(d) + ':00'
  xAxis(x, 4800, hourTicks.filter(d => d % 2 === 0 && d < 24), hh)
  xAxis(x, 4815, hourTicks.filter(d => d % 2 === 1), hh)
  yAxis(y, 86, [0, 10, 20, 30, 40, 50], fmtInt)
  label('0', 969, 4782, 12, 'middle', 'bold')
  label('Time (GMT)', 522, 4833, 14)
  vlabel('Speed (knots)', 53, 4584, 14)
  label('Wokingham,  14 December 2011', 133, 4364, 19, 'start')
  label('Wind speed, 10 min mean / max gust', 582, 4353, 14)
  label('Speeds below 4 kt shown at x10 scale', 582, 4371, 14)
  box(736, 4347, 224, 25)
  seg(769, 4360, 781, 4360, 3); label('Speed x 1', 788, 4359.5, 11, 'start')
  svg.append('path').attr('transform', 'translate(862,4359.5)')
    .attr('d', d3.symbol(diamond, 40)).attr('fill', '#c8c8c8').attr('stroke', '#333').attr('stroke-width', 0.8)
  label('Speed / 10', 873, 4359.5, 11, 'start')
}
</script>
</body>
</html>
